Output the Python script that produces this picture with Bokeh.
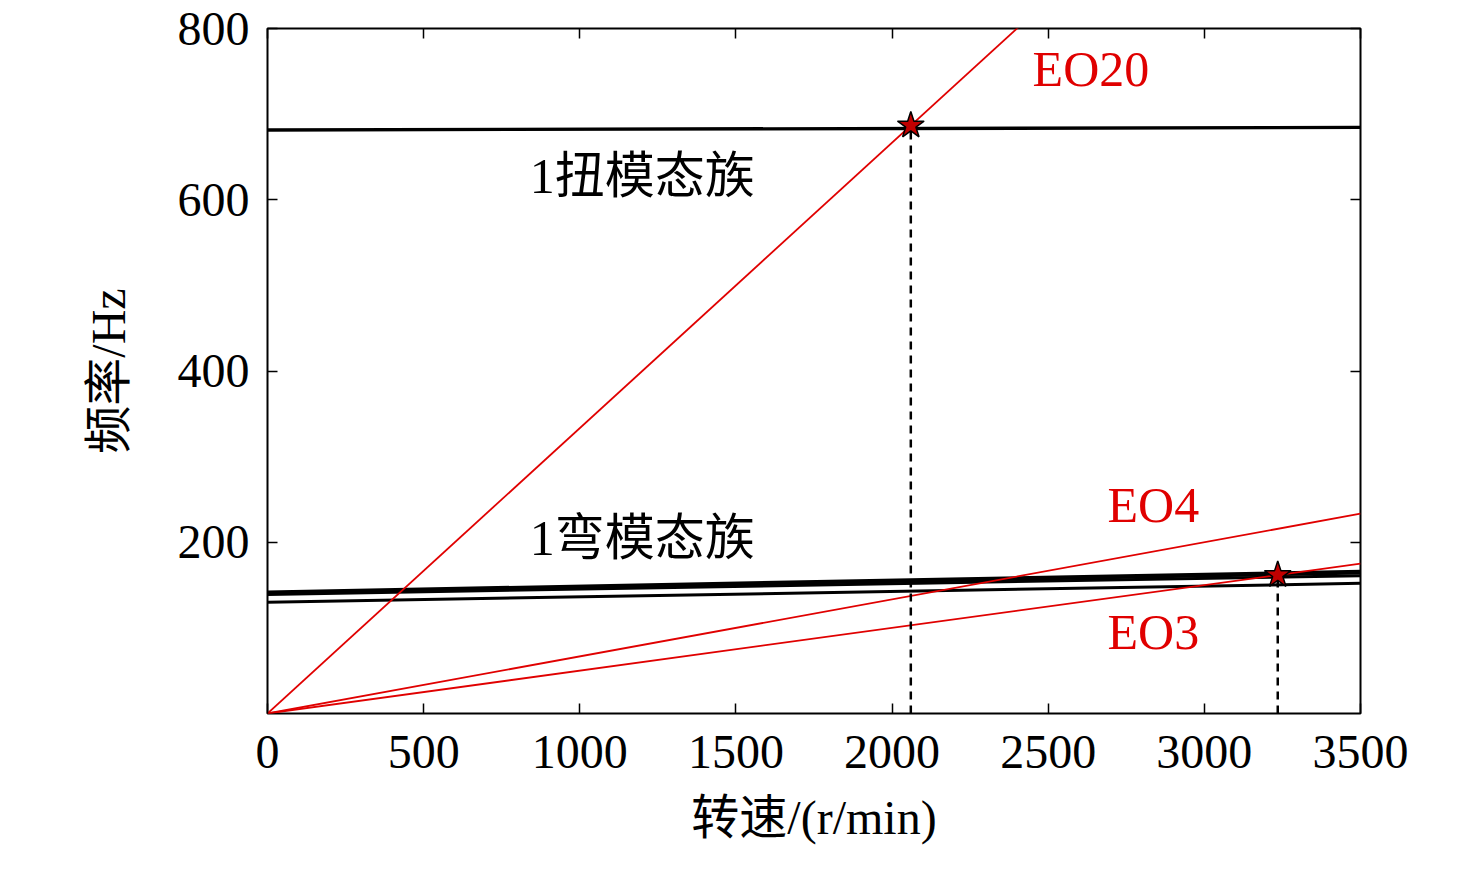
from bokeh.plotting import figure
from bokeh.embed import file_html
from bokeh.resources import INLINE
from bokeh.models import Range1d, FixedTicker, Label, LinearAxis
from bokeh.core.properties import value

speed = [0, 3500]
torsion_modes = [[681, 684], [682, 685]]
bending_modes = [[142, 166], [141, 164], [139, 161], [130, 152]]
eo_orders = [20, 4, 3]
eo_labels = ["EO20", "EO4", "EO3"]
resonance_x = [2060, 3235]
resonance_y = [686.7, 161.8]

serif = "Liberation Serif, Noto Sans CJK SC"
p = figure(width=1460, height=860, output_backend="svg", toolbar_location=None,
           x_range=Range1d(0, 3500), y_range=Range1d(0, 800),
           min_border_left=267, min_border_right=100, min_border_top=28, min_border_bottom=147)
p.grid.visible = False
p.outline_line_color = "black"
p.outline_line_width = 2

for ax in [p.xaxis[0], p.yaxis[0]]:
    ax.major_label_text_font = serif
    ax.major_label_text_font_size = "48px"
    ax.major_label_text_color = "black"
    ax.axis_label_text_font = serif
    ax.axis_label_text_font_size = "48px"
    ax.axis_label_text_color = "black"
    ax.axis_label_text_font_style = "normal"
    ax.major_tick_in = 10
    ax.major_tick_out = 0
    ax.minor_tick_line_color = None
    ax.axis_line_color = None
    ax.major_tick_line_width = 1.5
p.xaxis.ticker = FixedTicker(ticks=[0, 500, 1000, 1500, 2000, 2500, 3000, 3500])
p.yaxis.ticker = FixedTicker(ticks=[200, 400, 600, 800])
p.xaxis.axis_label = "转速/(r/min)"
p.yaxis.axis_label = "频率/Hz"
p.xaxis.major_label_standoff = 22
p.xaxis.axis_label_standoff = 20
p.yaxis.major_label_standoff = 18
p.yaxis.axis_label_standoff = 40

for loc, tk in [("right", [200, 400, 600, 800]), ("above", [0, 500, 1000, 1500, 2000, 2500, 3000, 3500])]:
    a = LinearAxis(ticker=FixedTicker(ticks=tk), major_label_text_font_size="0px",
                   major_tick_in=10, major_tick_out=0, minor_tick_line_color=None,
                   axis_line_color=None, major_tick_line_width=1.5)
    p.add_layout(a, loc)

for m in torsion_modes:
    p.line(speed, m, line_color="black", line_width=2.5)
for m in bending_modes:
    p.line(speed, m, line_color="black", line_width=3)

for k in eo_orders:
    p.line(speed, [0, k * speed[1] / 60], line_color="#e00000", line_width=1.8)

for x, y in zip(resonance_x, resonance_y):
    p.line([x, x], [0, y], line_color="black", line_width=2.5, line_dash="8 6")
p.scatter(resonance_x, resonance_y, marker="star", size=28, fill_color="#c00000",
          line_color="black", line_width=1.5)

red = "#e00000"
for txt, x, y in [("EO20", 2450, 753), ("EO4", 2690, 243), ("EO3", 2690, 95)]:
    p.add_layout(Label(x=x, y=y, text=txt, text_color=red, text_font=serif,
                       text_font_size="50px", text_baseline="middle"))
for txt, x, y in [("1扭模态族", 840, 628), ("1弯模态族", 840, 205)]:
    p.add_layout(Label(x=x, y=y, text=txt, text_color="black", text_font=serif,
                       text_font_size="50px", text_baseline="middle"))

open("out.html", "w").write(file_html(p, INLINE))
